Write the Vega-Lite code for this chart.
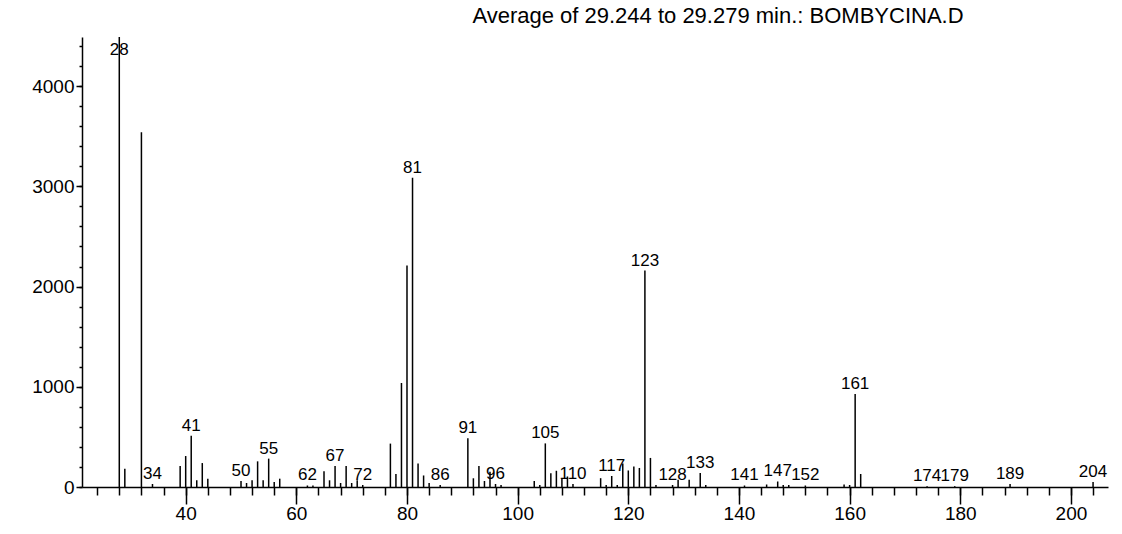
{
  "$schema": "https://vega.github.io/schema/vega-lite/v6.json",
  "width": 1026,
  "height": 450,
  "autosize": "none",
  "padding": {"left": 82, "top": 37, "right": 14, "bottom": 47},
  "background": "white",
  "title": {
    "text": "Average of 29.244 to 29.279 min.: BOMBYCINA.D",
    "font": "Liberation Sans",
    "fontSize": 22,
    "fontWeight": "normal",
    "color": "#000",
    "anchor": "middle",
    "frame": "group",
    "dx": 123,
    "dy": 24,
    "offset": 15,
    "baseline": "alphabetic"
  },
  "config": {
    "view": {"stroke": null},
    "axis": {
      "grid": false,
      "title": null,
      "domainColor": "#000",
      "domainWidth": 1.5,
      "tickColor": "#000",
      "tickWidth": 1.5,
      "labelColor": "#000",
      "labelFont": "Liberation Sans",
      "labelFontSize": 19
    }
  },
  "data": {
    "values": [
      {"mz": 28, "abundance": 4500, "labeled": true},
      {"mz": 29, "abundance": 183, "labeled": false},
      {"mz": 32, "abundance": 3540, "labeled": false},
      {"mz": 34, "abundance": 30, "labeled": true},
      {"mz": 39, "abundance": 209, "labeled": false},
      {"mz": 40, "abundance": 309, "labeled": false},
      {"mz": 41, "abundance": 512, "labeled": true},
      {"mz": 42, "abundance": 67, "labeled": false},
      {"mz": 43, "abundance": 239, "labeled": false},
      {"mz": 44, "abundance": 83, "labeled": false},
      {"mz": 50, "abundance": 60, "labeled": true},
      {"mz": 51, "abundance": 40, "labeled": false},
      {"mz": 52, "abundance": 67, "labeled": false},
      {"mz": 53, "abundance": 256, "labeled": false},
      {"mz": 54, "abundance": 67, "labeled": false},
      {"mz": 55, "abundance": 283, "labeled": true},
      {"mz": 56, "abundance": 50, "labeled": false},
      {"mz": 57, "abundance": 83, "labeled": false},
      {"mz": 62, "abundance": 15, "labeled": true},
      {"mz": 63, "abundance": 15, "labeled": false},
      {"mz": 65, "abundance": 156, "labeled": false},
      {"mz": 66, "abundance": 67, "labeled": false},
      {"mz": 67, "abundance": 209, "labeled": true},
      {"mz": 68, "abundance": 40, "labeled": false},
      {"mz": 69, "abundance": 209, "labeled": false},
      {"mz": 70, "abundance": 40, "labeled": false},
      {"mz": 71, "abundance": 67, "labeled": false},
      {"mz": 72, "abundance": 20, "labeled": true},
      {"mz": 77, "abundance": 433, "labeled": false},
      {"mz": 78, "abundance": 130, "labeled": false},
      {"mz": 79, "abundance": 1038, "labeled": false},
      {"mz": 80, "abundance": 2210, "labeled": false},
      {"mz": 81, "abundance": 3085, "labeled": true},
      {"mz": 82, "abundance": 234, "labeled": false},
      {"mz": 83, "abundance": 115, "labeled": false},
      {"mz": 84, "abundance": 40, "labeled": false},
      {"mz": 86, "abundance": 20, "labeled": true},
      {"mz": 91, "abundance": 486, "labeled": true},
      {"mz": 92, "abundance": 87, "labeled": false},
      {"mz": 93, "abundance": 209, "labeled": false},
      {"mz": 94, "abundance": 60, "labeled": false},
      {"mz": 95, "abundance": 153, "labeled": false},
      {"mz": 96, "abundance": 30, "labeled": true},
      {"mz": 97, "abundance": 20, "labeled": false},
      {"mz": 103, "abundance": 60, "labeled": false},
      {"mz": 104, "abundance": 20, "labeled": false},
      {"mz": 105, "abundance": 435, "labeled": true},
      {"mz": 106, "abundance": 136, "labeled": false},
      {"mz": 107, "abundance": 162, "labeled": false},
      {"mz": 108, "abundance": 80, "labeled": false},
      {"mz": 109, "abundance": 105, "labeled": false},
      {"mz": 110, "abundance": 30, "labeled": true},
      {"mz": 115, "abundance": 88, "labeled": false},
      {"mz": 116, "abundance": 20, "labeled": false},
      {"mz": 117, "abundance": 110, "labeled": true},
      {"mz": 118, "abundance": 20, "labeled": false},
      {"mz": 119, "abundance": 235, "labeled": false},
      {"mz": 120, "abundance": 165, "labeled": false},
      {"mz": 121, "abundance": 205, "labeled": false},
      {"mz": 122, "abundance": 190, "labeled": false},
      {"mz": 123, "abundance": 2160, "labeled": true},
      {"mz": 124, "abundance": 290, "labeled": false},
      {"mz": 125, "abundance": 20, "labeled": false},
      {"mz": 128, "abundance": 20, "labeled": true},
      {"mz": 129, "abundance": 72, "labeled": false},
      {"mz": 131, "abundance": 72, "labeled": false},
      {"mz": 133, "abundance": 140, "labeled": true},
      {"mz": 134, "abundance": 20, "labeled": false},
      {"mz": 141, "abundance": 15, "labeled": true},
      {"mz": 145, "abundance": 25, "labeled": false},
      {"mz": 147, "abundance": 55, "labeled": true},
      {"mz": 148, "abundance": 20, "labeled": false},
      {"mz": 149, "abundance": 20, "labeled": false},
      {"mz": 152, "abundance": 15, "labeled": true},
      {"mz": 159, "abundance": 25, "labeled": false},
      {"mz": 160, "abundance": 20, "labeled": false},
      {"mz": 161, "abundance": 927, "labeled": true},
      {"mz": 162, "abundance": 130, "labeled": false},
      {"mz": 174, "abundance": 8, "labeled": true},
      {"mz": 179, "abundance": 8, "labeled": true},
      {"mz": 189, "abundance": 30, "labeled": true},
      {"mz": 204, "abundance": 50, "labeled": true}
    ]
  },
  "layer": [
    {
      "mark": {"type": "rule", "color": "#000", "strokeWidth": 1.5},
      "encoding": {
        "x": {
          "field": "mz",
          "type": "quantitative",
          "scale": {"domain": [21.26, 206.7], "nice": false, "zero": false},
          "axis": {
            "orient": "bottom",
            "values": [24, 28, 32, 36, 40, 44, 48, 52, 56, 60, 64, 68, 72, 76, 80, 84, 88, 92, 96, 100, 104, 108, 112, 116, 120, 124, 128, 132, 136, 140, 144, 148, 152, 156, 160, 164, 168, 172, 176, 180, 184, 188, 192, 196, 200, 204],
            "labels": false,
            "tickSize": 8,
            "domain": true
          }
        },
        "y": {
          "field": "abundance",
          "type": "quantitative",
          "scale": {"domain": [0, 4490], "nice": false, "clamp": true},
          "axis": {
            "orient": "left",
            "values": [0, 200, 400, 600, 800, 1000, 1200, 1400, 1600, 1800, 2000, 2200, 2400, 2600, 2800, 3000, 3200, 3400, 3600, 3800, 4000, 4200, 4400],
            "labels": false,
            "tickSize": 3,
            "domain": true
          }
        },
        "y2": {"datum": 0}
      }
    },
    {
      "transform": [{"filter": "datum.labeled && datum.abundance <= 4490"}],
      "mark": {
        "type": "text",
        "font": "Liberation Sans",
        "fontSize": 17,
        "baseline": "alphabetic",
        "align": "center",
        "dy": -5,
        "color": "#000"
      },
      "encoding": {
        "x": {
          "field": "mz",
          "type": "quantitative",
          "scale": {"domain": [21.26, 206.7], "nice": false, "zero": false},
          "axis": {
            "orient": "bottom",
            "values": [40, 60, 80, 100, 120, 140, 160, 180, 200],
            "tickSize": 17,
            "domain": false,
            "labelPadding": 0
          }
        },
        "y": {
          "field": "abundance",
          "type": "quantitative",
          "scale": {"domain": [0, 4490], "nice": false, "clamp": true},
          "axis": {
            "orient": "left",
            "values": [0, 1000, 2000, 3000, 4000],
            "format": "d",
            "tickSize": 6,
            "domain": false,
            "labelPadding": 2
          }
        },
        "text": {"field": "mz", "type": "quantitative"}
      }
    },
    {
      "transform": [{"filter": "datum.labeled && datum.abundance > 4490"}],
      "mark": {
        "type": "text",
        "font": "Liberation Sans",
        "fontSize": 17,
        "baseline": "top",
        "align": "center",
        "dy": 5,
        "color": "#000"
      },
      "encoding": {
        "x": {
          "field": "mz",
          "type": "quantitative",
          "scale": {"domain": [21.26, 206.7], "nice": false, "zero": false},
          "axis": null
        },
        "y": {
          "field": "abundance",
          "type": "quantitative",
          "scale": {"domain": [0, 4490], "nice": false, "clamp": true},
          "axis": null
        },
        "text": {"field": "mz", "type": "quantitative"}
      }
    }
  ],
  "resolve": {"axis": {"x": "independent", "y": "independent"}}
}
